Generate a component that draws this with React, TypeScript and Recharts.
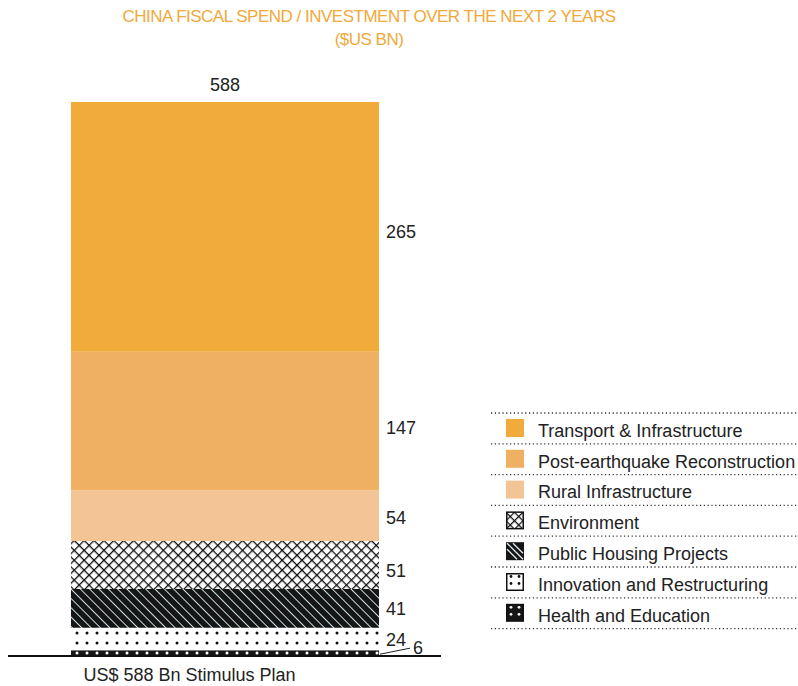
import { BarChart, Bar, XAxis, YAxis, LabelList } from 'recharts'

// ── Data ───────────────────────────────────────────────────────

const CATEGORIES = ['US$ 588 Bn Stimulus Plan']
const TITLE_LINES = ['CHINA FISCAL SPEND / INVESTMENT OVER THE NEXT 2 YEARS', '($US BN)']

// top of the stack first
const SERIES_KEYS = ['transport', 'reconstruction', 'rural', 'environment', 'housing', 'innovation', 'health']
const SERIES_NAMES = [
  'Transport & Infrastructure',
  'Post-earthquake Reconstruction',
  'Rural Infrastructure',
  'Environment',
  'Public Housing Projects',
  'Innovation and Restructuring',
  'Health and Education',
]
const SERIES_VALUES = [265, 147, 54, 51, 41, 24, 6]

// ── Styles ─────────────────────────────────────────────────────

const FONT = '"Liberation Sans", Arial, sans-serif'
const ORANGE = '#F0A93A'
const TEXT = '#222'
const FS = 18
const FILLS = ['#F0AB3B', '#EFB064', '#F4C594', 'url(#pat-cross)', 'url(#pat-stripe)', 'url(#pat-dots)', 'url(#pat-dots-dark)']
const LABEL_NUDGE = [5, 7, 2, 5, 0, 0, 0]

const data = CATEGORIES.map((name) => {
  const row: Record<string, string | number> = { name }
  SERIES_KEYS.forEach((k, i) => { row[k] = SERIES_VALUES[i] })
  return row
})
const TOTAL = SERIES_VALUES.reduce((s, v) => s + v, 0)

function Patterns() {
  return (
    <defs>
      <pattern id="pat-cross" patternUnits="userSpaceOnUse" width="7" height="7" patternTransform="rotate(45)">
        <rect width="7" height="7" fill="#fff" />
        <line x1="0" y1="0.6" x2="7" y2="0.6" stroke="#111" strokeWidth="1.4" />
        <line x1="0.6" y1="0" x2="0.6" y2="7" stroke="#111" strokeWidth="1.4" />
      </pattern>
      <pattern id="pat-stripe" patternUnits="userSpaceOnUse" width="6.6" height="6.6" patternTransform="rotate(45)">
        <rect width="6.6" height="6.6" fill="#161616" />
        <line x1="0" y1="3.3" x2="6.6" y2="3.3" stroke="#d8eef4" strokeWidth="0.9" />
      </pattern>
      <pattern id="pat-dots" patternUnits="userSpaceOnUse" x="72" y="628" width="10" height="10">
        <rect width="10" height="10" fill="#fff" />
        <circle cx="5" cy="5" r="1.5" fill="#111" />
      </pattern>
      <pattern id="pat-dots-dark" patternUnits="userSpaceOnUse" x="72" y="648" width="10" height="10">
        <rect width="10" height="10" fill="#161616" />
        <circle cx="5" cy="5" r="1.5" fill="#fff" />
      </pattern>
      <pattern id="pat-cross-lg" patternUnits="userSpaceOnUse" width="6" height="6" patternTransform="rotate(45)">
        <rect width="6" height="6" fill="#fff" />
        <line x1="0" y1="0.6" x2="6" y2="0.6" stroke="#111" strokeWidth="1.3" />
        <line x1="0.6" y1="0" x2="0.6" y2="6" stroke="#111" strokeWidth="1.3" />
      </pattern>
    </defs>
  )
}

// ── Labels ─────────────────────────────────────────────────────

function sideLabel(i: number) {
  return (props: any) => {
    const vb = props.viewBox ?? props
    const { x, y, width, height } = vb
    const right = x + width
    const cy = y + height / 2
    if (SERIES_KEYS[i] === 'health') {
      return (
        <g>
          <line x1={right + 1} y1={cy + 1} x2={right + 31} y2={cy - 5} stroke={TEXT} strokeWidth={1} />
          <text x={right + 34} y={cy - 6} dy="0.36em" fontSize={FS} fill={TEXT} fontFamily={FONT}>{props.value}</text>
        </g>
      )
    }
    return (
      <text x={right + 7} y={cy + LABEL_NUDGE[i]} dy="0.36em" fontSize={FS} fill={TEXT} fontFamily={FONT}>
        {props.value}
      </text>
    )
  }
}

function TotalLabel(props: any) {
  const vb = props.viewBox ?? props
  return (
    <text x={vb.x + vb.width / 2} y={vb.y - 17} dy="0.36em" textAnchor="middle" fontSize={FS} fill={TEXT} fontFamily={FONT}>
      {TOTAL}
    </text>
  )
}

function CategoryTick(props: any) {
  const { x, y, payload } = props
  return (
    <text x={x - 35} y={y + 11} dy="0.36em" textAnchor="middle" fontSize={FS} fill={TEXT} fontFamily={FONT}>
      {payload.value}
    </text>
  )
}

// ── Legend ─────────────────────────────────────────────────────

function Swatch({ i }: { i: number }) {
  const key = SERIES_KEYS[i]
  if (key === 'environment') return <rect x={0.75} y={0.75} width={16.5} height={16.5} fill="url(#pat-cross-lg)" stroke="#111" strokeWidth={1.5} />
  if (key === 'housing') {
    return (
      <g>
        <rect x={0} y={0} width={18} height={18} fill="#161616" />
        {[-6, 0, 6].map((o) => (
          <line key={o} x1={Math.max(0, o) + 1} y1={Math.max(0, -o) + 1} x2={17 - Math.max(0, -o)} y2={17 - Math.max(0, o)} stroke="#e0eef2" strokeWidth={1.3} />
        ))}
      </g>
    )
  }
  if (key === 'innovation' || key === 'health') {
    const dark = key === 'health'
    return (
      <g>
        <rect x={0.75} y={0.75} width={16.5} height={16.5} fill={dark ? '#161616' : '#fff'} stroke="#111" strokeWidth={1.5} />
        {[[5, 3.5], [13, 3.5], [5, 10.5], [13, 10.5]].map(([cx, cy], j) => (
          <circle key={j} cx={cx} cy={cy} r={1.4} fill={dark ? '#fff' : '#111'} />
        ))}
      </g>
    )
  }
  return <rect x={0} y={0} width={18} height={18} fill={FILLS[i]} />
}

function LegendBox() {
  const rowH = 30.8
  return (
    <svg width={310} height={rowH * SERIES_NAMES.length + 4} style={{ position: 'absolute', left: 490, top: 411 }}>
      {Array.from({ length: SERIES_NAMES.length + 1 }, (_, r) => (
        <line key={r} x1={1} x2={310} y1={2 + r * rowH} y2={2 + r * rowH} stroke="#333" strokeWidth={1.3} strokeDasharray="1.2 2.6" />
      ))}
      {SERIES_NAMES.map((name, i) => (
        <g key={name} transform={`translate(0, ${2 + i * rowH})`}>
          <g transform="translate(16, 6)"><Swatch i={i} /></g>
          <text x={48} y={rowH / 2 + 2} dy="0.36em" fontSize={FS} fill={TEXT} fontFamily={FONT}>{name}</text>
        </g>
      ))}
    </svg>
  )
}

// ── Chart ──────────────────────────────────────────────────────

export default function App() {
  const stackOrder = SERIES_KEYS.map((k, i) => ({ k, i })).reverse()
  return (
    <div style={{ position: 'absolute', left: 0, top: 0, width: 798, height: 686, background: '#fff', fontFamily: FONT }}>
      <div style={{ position: 'absolute', left: 0, top: 5, width: 738, textAlign: 'center', color: ORANGE, fontSize: 17, letterSpacing: '-0.5px', lineHeight: '23px' }}>
        {TITLE_LINES.map((t) => <div key={t}>{t}</div>)}
      </div>
      <BarChart width={798} height={686} data={data} margin={{ top: 102, right: 357, bottom: 0, left: 8 }}>
        <Patterns />
        <YAxis hide domain={[0, TOTAL]} />
        <XAxis dataKey="name" height={30} axisLine={{ stroke: '#111', strokeWidth: 2 }} tickLine={false} tick={<CategoryTick />} interval={0} />
        {stackOrder.map(({ k, i }) => (
          <Bar key={k} dataKey={k} stackId="a" fill={FILLS[i]} barSize={308} isAnimationActive={false}>
            <LabelList dataKey={k} content={sideLabel(i)} />
            {i === 0 && <LabelList dataKey={k} content={<TotalLabel />} />}
          </Bar>
        ))}
      </BarChart>
      <LegendBox />
    </div>
  )
}
